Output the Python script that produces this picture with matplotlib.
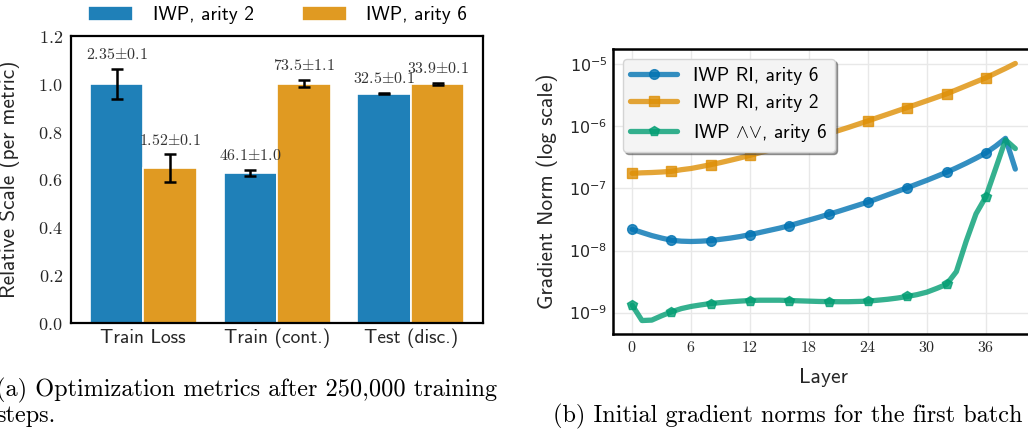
import matplotlib
matplotlib.use('Agg')
import matplotlib.pyplot as plt
import numpy as np
from matplotlib.ticker import FormatStrFormatter, FixedLocator

plt.rcParams['mathtext.fontset'] = 'cm'
plt.rcParams['axes.unicode_minus'] = False

SANS = 'cmss10'
SERIF = 'cmr10'
TEXT = '#262626'

# (a) optimization metrics after 250k steps
metrics = ['Train Loss', 'Train (cont.)', 'Test (disc.)']
bar_series = ['IWP, arity 2', 'IWP, arity 6']
means_a2 = [2.35, 46.1, 32.5]
stds_a2 = [0.148, 1.0, 0.1]
means_a6 = [1.52, 73.5, 33.9]
stds_a6 = [0.136, 1.1, 0.1]
bar_colors = ['#1f80b8', '#e09a22']

# (b) initial gradient norms, log10 per layer
layers = np.arange(40)
log_ri6 = [-7.658, -7.71, -7.76, -7.80, -7.835, -7.85, -7.855, -7.85, -7.84, -7.82,
           -7.80, -7.775, -7.744, -7.71, -7.675, -7.64, -7.60, -7.555, -7.51, -7.465,
           -7.417, -7.37, -7.32, -7.27, -7.22, -7.163, -7.105, -7.048, -6.99, -6.93,
           -6.87, -6.806, -6.741, -6.67, -6.595, -6.515, -6.431, -6.32, -6.195, -6.69]
log_ri2 = [-6.758, -6.75, -6.745, -6.737, -6.726, -6.70, -6.68, -6.65, -6.618, -6.585,
           -6.548, -6.51, -6.468, -6.426, -6.384, -6.341, -6.298, -6.253, -6.208, -6.163,
           -6.118, -6.07, -6.02, -5.967, -5.914, -5.86, -5.807, -5.753, -5.699, -5.645,
           -5.59, -5.535, -5.479, -5.415, -5.35, -5.285, -5.221, -5.145, -5.07, -4.99]
log_andor6 = [-8.879, -9.127, -9.12, -9.05, -8.987, -8.935, -8.90, -8.875, -8.853, -8.838,
              -8.825, -8.814, -8.805, -8.80, -8.80, -8.80, -8.805, -8.81, -8.815, -8.82,
              -8.822, -8.824, -8.824, -8.82, -8.815, -8.80, -8.785, -8.765, -8.74, -8.71,
              -8.67, -8.61, -8.545, -8.34, -7.85, -7.41, -7.135, -6.68, -6.22, -6.36]
line_labels = ['IWP RI, arity 6', 'IWP RI, arity 2', r'IWP ${\wedge}{\vee}$, arity 6']
line_colors = ['#0173b2', '#de8f05', '#029e73']
line_markers = ['o', 's', 'p']

fig = plt.figure(figsize=(10.28, 4.29), dpi=100)

# ---- left: bars ----
ax = fig.add_axes([0.0691, 0.2471, 0.4008, 0.669])
x = np.arange(len(metrics))
w = 0.4
tops = [max(a, b) for a, b in zip(means_a2, means_a6)]
for k, (means, stds) in enumerate([(means_a2, stds_a2), (means_a6, stds_a6)]):
    rel = np.array(means) / np.array(tops)
    err = np.array(stds) / np.array(tops)
    pos = x + (k - 0.5) * w
    ax.bar(pos, rel, width=w, color=bar_colors[k], edgecolor='white', linewidth=1.2,
           yerr=err, capsize=4.5, label=bar_series[k],
           error_kw=dict(elinewidth=1.8, capthick=1.8, ecolor='black'))
    for p, r, e, m, s in zip(pos, rel, err, means, stds):
        ax.annotate(r'$%s{\pm}%.1f$' % ('{:g}'.format(m), s), (p, r + e),
                    xytext=(0, 5), textcoords='offset points', ha='center', va='bottom',
                    fontsize=11.5, color='#333333')

ax.set_ylim(0, 1.2)
ax.set_yticks(np.arange(0, 1.21, 0.2))
ax.yaxis.set_major_formatter(FormatStrFormatter('$%.1f$'))
ax.set_xticks(x)
ax.set_xticklabels(metrics, fontfamily=SANS, fontsize=14, color=TEXT)
ax.tick_params(axis='both', length=0, pad=4)
ax.tick_params(axis='y', labelsize=13, labelcolor=TEXT, pad=6)
ax.set_ylabel('Relative Scale (per metric)', fontfamily=SANS, fontsize=15.3, color=TEXT)
ax.yaxis.set_label_coords(-0.124, 0.5)
for sp in ax.spines.values():
    sp.set_color('black')
    sp.set_linewidth(1.6)
ax.legend(loc='center', bbox_to_anchor=(0.502, 1.072), ncol=2, frameon=False,
          handlelength=2.3, handleheight=0.75, handletextpad=1.0, columnspacing=2.5,
          prop={'family': SANS, 'size': 14})
fig.text(-0.004, 1 - 396 / 429, '(a) Optimization metrics after 250,000 training',
         fontfamily=SERIF, fontsize=17.5, va='baseline', ha='left')
fig.text(-0.004, 1 - 422 / 429, 'steps.', fontfamily=SERIF, fontsize=17.5,
         va='baseline', ha='left')

# ---- right: gradient norms ----
ax2 = fig.add_axes([0.5963, 0.2214, 0.41, 0.6643])
for vals, lab, c, mk in zip([log_ri6, log_ri2, log_andor6], line_labels, line_colors, line_markers):
    ax2.plot(layers, 10 ** np.array(vals), color=c, lw=3.8, alpha=0.8, marker=mk,
             ms=7 if mk != 's' else 6.5, markevery=4, label=lab, solid_capstyle='round')
ax2.set_yscale('log')
ax2.set_ylim(10 ** -9.344, 10 ** -4.758)
ax2.set_xlim(-1.95, 40.95)
ax2.xaxis.set_major_locator(FixedLocator(np.arange(0, 37, 6)))
ax2.xaxis.set_major_formatter(FormatStrFormatter('$%d$'))
ax2.grid(True, which='major', color='#e8e8e8', lw=1.0)
ax2.set_axisbelow(True)
ax2.tick_params(axis='both', which='both', length=0, pad=4, labelsize=11.5, labelcolor=TEXT)
ax2.set_xlabel('Layer', fontfamily=SANS, fontsize=15.5, color=TEXT)
ax2.xaxis.set_label_coords(0.5, -0.119)
ax2.set_ylabel('Gradient Norm (log scale)', fontfamily=SANS, fontsize=15.5, color=TEXT)
ax2.yaxis.set_label_coords(-0.13, 0.5)
for sp in ax2.spines.values():
    sp.set_color('black')
    sp.set_linewidth(1.8)
ax2.legend(loc='upper left', shadow=True, fancybox=True, framealpha=1.0,
           facecolor='#f4f4f4', edgecolor='#d4d4d4', handlelength=2.4,
           prop={'family': SANS, 'size': 14})
fig.text(553 / 1028, 1 - 422 / 429, '(b) Initial gradient norms for the first batch',
         fontfamily=SERIF, fontsize=17.5, va='baseline', ha='left')

fig.savefig('out.png', dpi=100)
